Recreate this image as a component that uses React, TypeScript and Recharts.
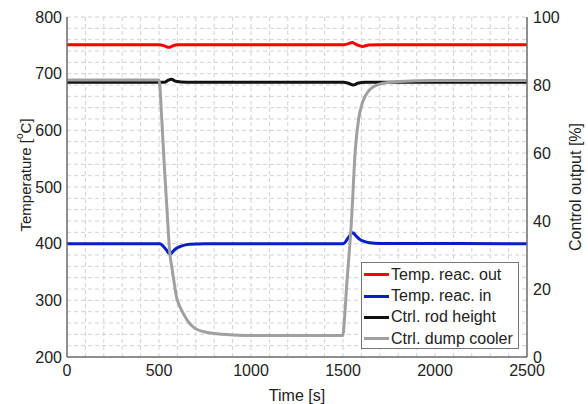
import { ComposedChart, Line, XAxis, YAxis, CartesianGrid, Legend } from "recharts";

const TIME_TICKS = [0, 500, 1000, 1500, 2000, 2500];
const TEMP_TICKS = [200, 300, 400, 500, 600, 700, 800];
const CTRL_TICKS = [0, 20, 40, 60, 80, 100];
const SERIES_NAMES = ["Temp. reac. out", "Temp. reac. in", "Ctrl. rod height", "Ctrl. dump cooler"];

// minor grid: every 100 s and every 20 degC
const range = (a: number, b: number, step: number) => {
  const out: number[] = [];
  for (let v = a; v <= b; v += step) out.push(v);
  return out;
};
const GRID_TIME = range(0, 2500, 100);
const GRID_TEMP = range(200, 800, 20);

// Temp. reac. out [degC]
const tempOut = [
  { t: 0, v: 751 }, { t: 500, v: 751 }, { t: 530, v: 749 }, { t: 553, v: 746.5 },
  { t: 575, v: 749 }, { t: 600, v: 751 }, { t: 1000, v: 751 }, { t: 1500, v: 751 },
  { t: 1530, v: 753 }, { t: 1549, v: 755 }, { t: 1575, v: 751 }, { t: 1605, v: 748 },
  { t: 1640, v: 750.5 }, { t: 1700, v: 751 }, { t: 2500, v: 751 },
];

// Temp. reac. in [degC]
const tempIn = [
  { t: 0, v: 400 }, { t: 505, v: 400 }, { t: 535, v: 391 }, { t: 562, v: 381.5 },
  { t: 575, v: 386 }, { t: 595, v: 391.8 }, { t: 620, v: 395.5 }, { t: 667, v: 398.9 },
  { t: 750, v: 399.8 }, { t: 1000, v: 400 }, { t: 1502, v: 400 }, { t: 1530, v: 411 },
  { t: 1553, v: 419.4 }, { t: 1570, v: 414 }, { t: 1589, v: 408 }, { t: 1615, v: 404 },
  { t: 1643, v: 401.7 }, { t: 1700, v: 400.3 }, { t: 2500, v: 400 },
];

// Ctrl. rod height [%]
const rodHeight = [
  { t: 0, v: 80.8 }, { t: 530, v: 80.8 }, { t: 550, v: 81.4 }, { t: 568, v: 81.7 },
  { t: 590, v: 81.1 }, { t: 650, v: 80.8 }, { t: 1500, v: 80.8 }, { t: 1530, v: 80.5 },
  { t: 1556, v: 80 }, { t: 1580, v: 80.5 }, { t: 1620, v: 80.8 }, { t: 2500, v: 80.8 },
];

// Ctrl. dump cooler [%]
const dumpCooler = [
  { t: 0, v: 81.5 }, { t: 500, v: 81.5 }, { t: 515, v: 70 }, { t: 528, v: 57 },
  { t: 545, v: 42 }, { t: 558, v: 31 }, { t: 568, v: 27 }, { t: 582, v: 22 },
  { t: 595, v: 17.7 }, { t: 612, v: 15 }, { t: 631, v: 12.9 }, { t: 660, v: 10.3 },
  { t: 694, v: 8.5 }, { t: 740, v: 7.5 }, { t: 792, v: 7 }, { t: 900, v: 6.5 },
  { t: 1047, v: 6.3 }, { t: 1500, v: 6.3 }, { t: 1505, v: 9 }, { t: 1520, v: 21 },
  { t: 1546, v: 40 }, { t: 1567, v: 61 }, { t: 1585, v: 70 }, { t: 1605, v: 74.7 },
  { t: 1640, v: 78.3 }, { t: 1697, v: 80.2 }, { t: 1806, v: 81 }, { t: 2000, v: 81.3 },
  { t: 2500, v: 81.3 },
];

const FONT = "'Liberation Sans', Arial, sans-serif";
const AXIS = "#6e6e6e";
const tick = { fill: "#222", fontSize: 16, fontFamily: FONT };

function TempLabel(props: any) {
  const vb = props.viewBox;
  const x = vb.x + 25;
  const y = 175;
  return (
    <text x={x} y={y} transform={`rotate(-90 ${x} ${y})`} textAnchor="middle" dominantBaseline="central"
      fill="#222" fontSize={15} fontFamily={FONT}>
      <tspan>Temperature [</tspan>
      <tspan fontSize={10} dy={-6}>o</tspan>
      <tspan dy={6}>C]</tspan>
    </text>
  );
}

function CtrlLabel(props: any) {
  const vb = props.viewBox;
  const x = vb.x + 48;
  const y = vb.y + vb.height / 2;
  return (
    <text x={x} y={y} transform={`rotate(-90 ${x} ${y})`} textAnchor="middle" dominantBaseline="central"
      fill="#222" fontSize={16} fontFamily={FONT}>
      Control output [%]
    </text>
  );
}

function TimeLabel(props: any) {
  const vb = props.viewBox;
  return (
    <text x={vb.x + vb.width / 2} y={vb.y + 38} textAnchor="middle" dominantBaseline="central"
      fill="#222" fontSize={16} fontFamily={FONT}>
      Time [s]
    </text>
  );
}

function LegendBox(props: any) {
  const items = [...(props.payload || [])].sort(
    (a: any, b: any) => SERIES_NAMES.indexOf(a.value) - SERIES_NAMES.indexOf(b.value)
  );
  return (
    <div style={{ border: "1px solid #777", background: "#fff", width: 158, height: 87, padding: "1px 0", boxSizing: "border-box" }}>
      {items.map((it: any) => (
        <div key={it.value} style={{ display: "flex", alignItems: "center", height: 21.4, fontFamily: FONT, fontSize: 16, color: "#222", whiteSpace: "nowrap" }}>
          <span style={{ display: "inline-block", width: 25, height: 3, background: it.color, marginLeft: 2, marginRight: 2 }} />
          {it.value}
        </div>
      ))}
    </div>
  );
}

export default function App() {
  return (
    <div style={{ position: "absolute", left: 0, top: 0, width: 588, height: 404, background: "#fff" }}>
      <ComposedChart width={588} height={404} margin={{ top: 17, right: 0, bottom: 0, left: 0 }}>
        <CartesianGrid yAxisId="temp" horizontalValues={GRID_TEMP} verticalValues={GRID_TIME}
          stroke="#d2d2d2" strokeDasharray="4 3" />
        <XAxis dataKey="t" type="number" domain={[0, 2500]} ticks={TIME_TICKS} height={47} interval={0}
          allowDuplicatedCategory={false} tick={tick} tickLine={false} tickSize={4} tickMargin={4}
          axisLine={{ stroke: AXIS, strokeWidth: 1.5 }} label={<TimeLabel />} />
        <YAxis yAxisId="temp" orientation="left" domain={[200, 800]} ticks={TEMP_TICKS} width={67} interval={0}
          tick={tick} tickLine={false} tickSize={2} tickMargin={3}
          axisLine={{ stroke: AXIS, strokeWidth: 1.5 }} label={<TempLabel />} />
        <YAxis yAxisId="ctrl" orientation="right" domain={[0, 100]} ticks={CTRL_TICKS} width={61} interval={0}
          tick={tick} tickLine={false} tickSize={2} tickMargin={4}
          axisLine={{ stroke: AXIS, strokeWidth: 1.5 }} label={<CtrlLabel />} />
        <Legend content={<LegendBox />} layout="vertical" align="center" verticalAlign="middle"
          wrapperStyle={{ left: 361, top: 262, width: 158, height: 87 }} />
        <Line yAxisId="temp" data={tempOut} dataKey="v" name="Temp. reac. out" type="monotone"
          stroke="#ff0000" strokeWidth={3} dot={false} isAnimationActive={false} />
        <Line yAxisId="temp" data={tempIn} dataKey="v" name="Temp. reac. in" type="monotone"
          stroke="#0a1ec8" strokeWidth={3} dot={false} isAnimationActive={false} />
        <Line yAxisId="ctrl" data={rodHeight} dataKey="v" name="Ctrl. rod height" type="monotone"
          stroke="#111111" strokeWidth={3} dot={false} isAnimationActive={false} />
        <Line yAxisId="ctrl" data={dumpCooler} dataKey="v" name="Ctrl. dump cooler" type="monotone"
          stroke="#a0a0a0" strokeWidth={3} dot={false} isAnimationActive={false} />
      </ComposedChart>
    </div>
  );
}
